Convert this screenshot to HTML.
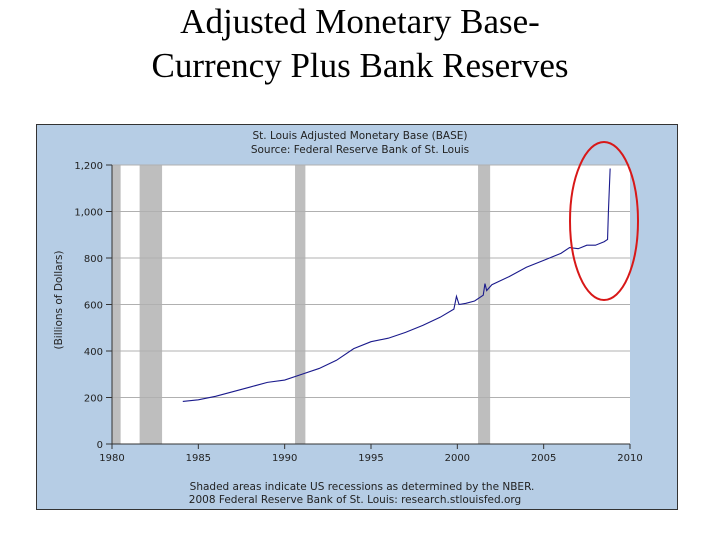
<!DOCTYPE html>
<html><head><meta charset="utf-8"><style>
body{margin:0;background:#fff;width:720px;height:540px;overflow:hidden;position:relative;font-family:"Liberation Sans",sans-serif}
.t{position:absolute;left:0;width:720px;text-align:center;font-family:"Liberation Serif",serif;font-size:35px;line-height:40px;color:#000}
</style></head><body>
<div class="t" style="top:2px">Adjusted Monetary Base-</div>
<div class="t" style="top:46px">Currency Plus Bank Reserves</div>
<svg id="c" width="720" height="540" style="position:absolute;left:0;top:0"></svg>
<script>
const years=[1984.1,1985,1986,1987,1988,1989,1990,1991,1992,1993,1994,1995,1996,1997,1998,1999,1999.8,1999.95,2000.1,2000.5,2001,2001.5,2001.6,2001.7,2002,2003,2004,2005,2006,2006.5,2007,2007.5,2008,2008.5,2008.7,2008.75,2008.85];
const values=[183,190,205,225,245,265,275,300,325,360,410,440,455,480,510,545,580,635,600,605,615,640,690,660,685,720,760,790,820,845,840,855,855,870,880,1000,1185];
const recStart=[1980.0,1981.6,1990.6,2001.2];
const recEnd=[1980.5,1982.9,1991.2,2001.9];
const yTicks=[0,200,400,600,800,1000,1200];
const yTickLabels=["0","200","400","600","800","1,000","1,200"];
const xTicks=[1980,1985,1990,1995,2000,2005,2010];
const svg=document.getElementById('c');const NS='http://www.w3.org/2000/svg';
const X=v=>112+(v-1980)*(630-112)/30;
const Y=v=>444-v*(444-165)/1200;
function mk(t,a,p){const e=document.createElementNS(NS,t);for(const k in a)e.setAttribute(k,a[k]);(p||svg).appendChild(e);return e;}
const panel=mk('rect',{x:36.5,y:124.5,width:641,height:385,fill:'#b6cde5',stroke:'#333'});

const plot=mk('rect',{x:112,y:165,width:518,height:279,fill:'#fff'});

recStart.forEach((s,i)=>{const r=mk('rect',{x:X(s),y:165,width:X(recEnd[i])-X(s),height:279,fill:'#bebebe'});
});
yTicks.forEach((v,i)=>{if(v>0){const g=mk('line',{x1:112,x2:630,y1:Y(v),y2:Y(v),stroke:'#b0b0b0'});}
mk('line',{x1:106,x2:112,y1:Y(v),y2:Y(v),stroke:'#333'});
const t=mk('text',{x:103,y:Y(v)+4,'text-anchor':'end','font-size':10,fill:'#222','font-family':'DejaVu Sans, sans-serif'});t.textContent=yTickLabels[i];
});
xTicks.forEach(v=>{mk('line',{x1:X(v),x2:X(v),y1:444,y2:449,stroke:'#333'});
const t=mk('text',{x:X(v),y:461,'text-anchor':'middle','font-size':10,fill:'#222','font-family':'DejaVu Sans, sans-serif'});t.textContent=v;
});
mk('line',{x1:112,x2:112,y1:165,y2:444,stroke:'#333'});
mk('line',{x1:112,x2:630,y1:444,y2:444,stroke:'#333'});
const line=mk('polyline',{points:years.map((y,i)=>X(y)+','+Y(values[i])).join(' '),fill:'none',stroke:'#1a1a8c','stroke-width':1.1});

function txt(s,x,y,n,extra){const t=mk('text',Object.assign({x:x,y:y,'text-anchor':'middle','font-size':10.5,fill:'#222','font-family':'DejaVu Sans, sans-serif'},extra||{}));t.textContent=s;return t;}
txt('St. Louis Adjusted Monetary Base (BASE)',360,139,'chart-title');
txt('Source: Federal Reserve Bank of St. Louis',360,153,'chart-source');
txt('(Billions of Dollars)',62,300,'y-axis-title',{transform:'rotate(-90 62 300)'});
txt('Shaded areas indicate US recessions as determined by the NBER.',362,490,'footnote-1');
txt('2008 Federal Reserve Bank of St. Louis: research.stlouisfed.org',355,503,'footnote-2');
const el=mk('ellipse',{cx:604,cy:221,rx:34,ry:79,fill:'none',stroke:'#d81818','stroke-width':2});

</script>
</body></html>
